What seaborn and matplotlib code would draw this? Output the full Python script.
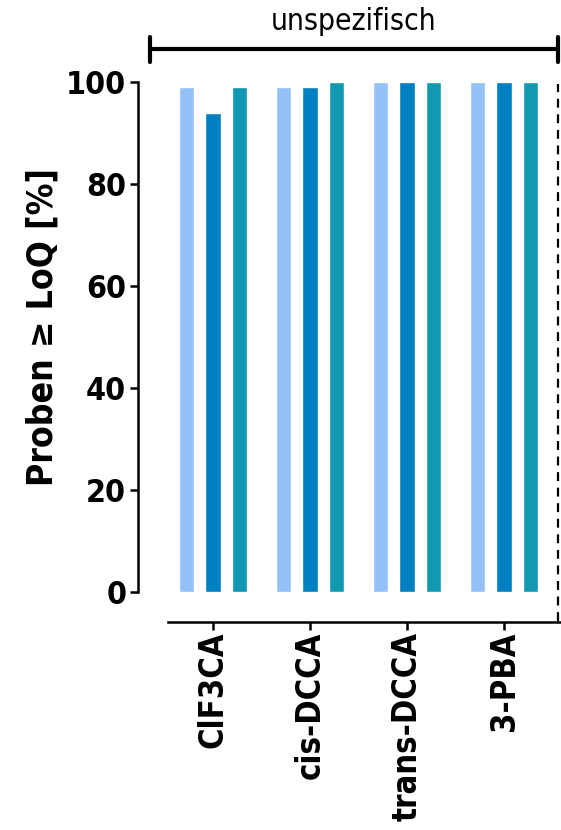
import matplotlib
matplotlib.use("Agg")
import matplotlib.pyplot as plt
from matplotlib.lines import Line2D
import seaborn as sns
import pandas as pd

categories = ["ClF3CA", "cis-DCCA", "trans-DCCA", "3-PBA"]
groups = ["A", "B", "C"]
values_a = [99, 99, 100, 100]
values_b = [94, 99, 100, 100]
values_c = [99, 100, 100, 100]
colors = ["#94C1F8", "#0080C0", "#1099B0"]
yticks = [0, 20, 40, 60, 80, 100]

sns.set_theme(style="ticks")
plt.rcParams['font.family'] = ['Liberation Sans Narrow', 'DejaVu Sans']
plt.rcParams['font.stretch'] = 'condensed'

rows = []
for g, vals in zip(groups, [values_a, values_b, values_c]):
    for c, v in zip(categories, vals):
        rows.append({"cat": c, "grp": g, "val": v})
df = pd.DataFrame(rows)

fig = plt.figure(figsize=(5.61, 8.30), dpi=100)
ax = fig.add_axes([168/561, (830-592)/830, (560-168)/561, (592-82)/830])

sns.barplot(data=df, x="cat", y="val", hue="grp", order=categories,
            hue_order=groups, palette=colors, width=0.82, gap=0.43,
            legend=False, ax=ax, saturation=1)

for s in ["top", "right"]:
    ax.spines[s].set_visible(False)
for s in ["left", "bottom"]:
    ax.spines[s].set_linewidth(1.8)
    ax.spines[s].set_color("black")
ax.spines["left"].set_position(("outward", 21.6))
ax.spines["bottom"].set_position(("outward", 21.6))

ax.set_ylim(0, 100)
ax.set_xlim(-0.464, 3.577)
ax.set_yticks(yticks)
ax.set_yticklabels([str(t) for t in yticks], fontsize=23, fontweight='bold')
ax.set_xticks(range(len(categories)))
ax.set_xticklabels(categories, rotation=90, fontsize=23.5, fontweight='bold')
ax.set_xlabel("")
ax.set_ylabel("Proben \u2265 LoQ [%]", fontsize=25.5, fontweight='bold')
ax.yaxis.set_label_coords((60-168)/392, (592-327)/510)
ax.tick_params(axis="both", direction="out", length=5.5, width=1.8, color="black",
               pad=3, labelcolor="black")
ax.tick_params(axis="x", pad=1.5)
ax.yaxis.label.set_color("black")

# dashed right border
fig.add_artist(Line2D([558/561, 558/561], [(830-621)/830, (830-84)/830],
                      transform=fig.transFigure, color="black", lw=1.6,
                      linestyle=(0, (4, 3))))

# top bracket
yb = (830-49)/830
fig.add_artist(Line2D([150/561, 558/561], [yb, yb], transform=fig.transFigure,
                      color="black", lw=3))
for xx in [150/561, 558/561]:
    fig.add_artist(Line2D([xx, xx], [(830-37)/830, (830-62)/830],
                          transform=fig.transFigure, color="black", lw=3))
fig.text(354/561, (830-22)/830, "unspezifisch", ha="center", va="center",
         fontsize=21.5, color="black")

fig.savefig("out.png", dpi=100)
